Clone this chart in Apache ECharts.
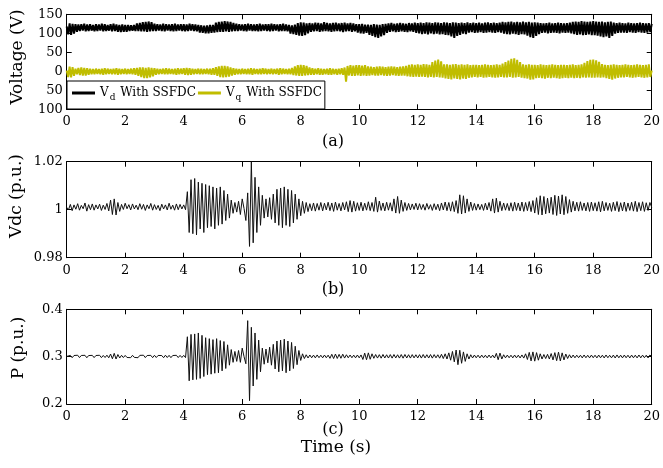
<!DOCTYPE html>
<html>
<head>
<meta charset="utf-8">
<script src="https://cdn.jsdelivr.net/npm/echarts/dist/echarts.min.js"></script>
<style>
  html, body { margin: 0; padding: 0; background: #fff; }
  #chart { width: 663px; height: 468px; }
</style>
</head>
<body>
<div id="chart"></div>
<script>
// Sample spacing of the recorded traces (seconds)
const dtVoltage = 0.05;     // Vd / Vq record
const dtDc = 0.0625;        // Vdc / P record

// d-axis voltage with SSFDC (V), one row per second
const vd = [
  118,97,126,96,125,99,124,104,123,106,124,107,125,105,123,106,124,107,122,105,
  124,106,123,107,125,105,124,106,122,107,124,105,125,106,123,104,122,103,123,104,
  122,104,122,106,121,107,122,106,126,106,127,105,129,105,130,104,131,105,129,106,
  125,106,124,107,123,106,125,105,124,107,123,106,124,105,125,106,123,107,124,106,
  124,105,123,106,125,107,124,106,123,105,122,102,121,101,120,100,121,100,122,101,
  122,102,128,103,130,104,131,104,132,105,131,104,130,105,127,106,125,106,124,107,
  123,106,124,105,125,107,124,106,123,106,124,105,125,106,123,107,124,106,124,105,
  125,106,124,107,123,105,124,106,125,106,123,105,122,99,121,98,123,96,127,94,
  129,93,128,95,126,100,127,104,126,105,128,106,127,104,126,105,129,106,127,105,
  126,104,127,105,128,106,126,105,127,103,128,105,126,106,127,104,126,105,124,102,
  124,100,125,99,123,101,123,96,122,93,124,90,123,88,122,92,124,95,125,101,
  126,104,127,105,125,103,126,104,127,105,126,104,125,103,127,105,126,104,128,101,
  127,100,128,98,127,99,129,97,128,100,127,98,129,99,128,97,127,98,129,96,
  128,95,127,92,129,88,128,93,127,96,128,99,127,98,129,102,127,103,128,101,
  127,102,128,103,126,101,128,102,129,103,127,102,128,101,127,103,128,102,130,99,
  129,98,130,97,131,99,129,98,130,96,129,98,131,97,129,94,130,90,128,88,
  129,93,128,98,127,101,126,102,127,100,128,101,126,102,127,101,128,100,127,102,
  126,101,127,102,128,100,130,98,131,96,130,97,132,95,131,96,130,97,131,95,
  132,95,131,94,130,92,131,90,129,92,130,88,131,93,128,99,127,101,128,102,
  127,102,126,101,128,103,127,102,126,101,127,103,128,102,127,101,126,102,127,103,
  125
];

// q-axis voltage with SSFDC (V)
const vq = [
  2,-15,12,-16,11,-12,7,-8,9,-10,10,-11,9,-11,8,-9,7,-8,6,-8,
  7,-7,6,-8,7,-9,8,-8,7,-7,6,-8,7,-8,8,-9,7,-8,6,-7,
  7,-8,6,-7,7,-8,8,-9,9,-12,10,-15,10,-18,9,-18,10,-16,9,-13,
  8,-9,7,-8,6,-7,7,-8,8,-8,7,-7,6,-8,7,-9,8,-8,7,-7,
  8,-9,9,-10,8,-9,7,-8,6,-7,7,-8,7,-8,6,-7,7,-8,7,-9,
  8,-9,11,-12,13,-15,14,-16,14,-15,13,-14,10,-11,8,-9,7,-8,6,-8,
  7,-7,6,-8,7,-8,8,-9,7,-7,6,-8,7,-8,8,-7,7,-8,6,-7,
  7,-8,6,-7,7,-9,8,-8,7,-7,6,-8,7,-8,9,-10,13,-11,16,-12,
  17,-12,16,-11,14,-10,10,-9,8,-9,7,-8,8,-9,7,-9,6,-8,7,-9,
  8,-9,7,-8,6,-9,7,-8,8,-9,10,-27,14,-11,16,-12,15,-12,16,-11,
  16,-12,15,-11,16,-12,13,-11,12,-10,11,-11,12,-11,13,-10,12,-11,11,-12,
  12,-11,13,-10,12,-11,11,-12,12,-11,13,-11,14,-13,17,-14,18,-15,17,-14,
  18,-15,17,-14,19,-15,18,-16,17,-15,24,-16,28,-15,31,-16,26,-17,18,-19,
  18,-20,17,-21,18,-19,19,-20,17,-21,18,-19,17,-20,18,-17,16,-16,17,-15,
  17,-16,16,-15,17,-17,18,-16,17,-15,16,-16,17,-17,18,-16,17,-15,20,-16,
  24,-16,28,-15,33,-17,34,-16,30,-15,24,-17,18,-18,17,-19,18,-22,17,-21,
  17,-18,16,-17,18,-18,17,-19,16,-17,17,-18,18,-17,17,-18,16,-19,17,-18,
  17,-17,16,-18,17,-17,18,-18,16,-17,17,-18,18,-16,22,-17,27,-16,30,-17,
  31,-17,29,-16,25,-17,19,-16,17,-18,16,-20,17,-22,18,-19,17,-17,16,-16,
  17,-16,18,-15,17,-16,16,-17,17,-16,18,-15,17,-16,16,-17,17,-16,18,-15,
  2
];

// DC-link voltage (p.u.)
const vdc = [
  1.0010,1.0000,1.0022,0.9996,1.0020,1.0002,1.0025,0.9998,1.0018,1.0004,1.0028,0.9994,1.0021,1.0000,1.0024,0.9998,
  1.0020,1.0003,1.0023,0.9997,1.0019,1.0001,1.0026,0.9995,1.0040,0.9980,1.0045,0.9978,1.0030,0.9993,1.0022,1.0001,
  1.0027,1.0004,1.0021,0.9999,1.0024,1.0003,1.0019,1.0000,1.0025,1.0002,1.0022,0.9997,1.0020,1.0004,1.0026,0.9998,
  1.0021,1.0001,1.0018,0.9996,1.0023,1.0003,1.0020,0.9999,1.0027,1.0002,1.0019,0.9998,1.0024,1.0000,1.0022,1.0003,
  1.0020,1.0000,1.0075,0.9905,1.0125,0.9900,1.0130,0.9895,1.0115,0.9920,1.0110,0.9905,1.0105,0.9925,1.0100,0.9930,
  1.0095,0.9920,1.0090,0.9935,1.0095,0.9940,1.0080,0.9955,1.0065,0.9965,1.0040,0.9985,1.0030,0.9990,1.0035,0.9980,
  1.0045,1.0005,0.9955,1.0070,0.9847,1.0200,0.9862,1.0135,0.9905,1.0095,0.9935,1.0060,0.9965,1.0045,0.9970,1.0050,
  0.9960,1.0065,0.9945,1.0085,0.9935,1.0090,0.9925,1.0095,0.9935,1.0085,0.9930,1.0080,0.9945,1.0065,0.9960,1.0045,
  0.9975,1.0035,0.9985,1.0030,0.9992,1.0025,0.9996,1.0028,0.9994,1.0026,0.9998,1.0030,0.9995,1.0027,0.9999,1.0031,
  0.9996,1.0028,0.9993,1.0032,0.9998,1.0026,0.9995,1.0030,0.9999,1.0033,0.9992,1.0038,0.9990,1.0035,0.9994,1.0029,
  0.9997,1.0031,0.9995,1.0027,0.9998,1.0033,0.9996,1.0030,0.9993,1.0052,0.9990,1.0036,0.9997,1.0028,0.9995,1.0031,
  0.9998,1.0029,0.9994,1.0045,0.9986,1.0055,0.9985,1.0040,0.9993,1.0030,0.9997,1.0026,0.9999,1.0024,1.0001,1.0027,
  0.9999,1.0025,1.0001,1.0022,0.9998,1.0026,1.0002,1.0021,0.9997,1.0025,1.0000,1.0023,0.9996,1.0028,0.9999,1.0032,
  0.9996,1.0030,0.9994,1.0033,0.9992,1.0038,0.9985,1.0062,0.9982,1.0058,0.9986,1.0045,0.9993,1.0032,0.9997,1.0026,
  0.9998,1.0024,1.0000,1.0022,0.9997,1.0027,0.9999,1.0030,0.9994,1.0045,0.9986,1.0048,0.9990,1.0035,0.9996,1.0028,
  0.9998,1.0026,0.9996,1.0029,0.9994,1.0031,0.9997,1.0028,0.9995,1.0032,0.9993,1.0030,0.9996,1.0034,0.9992,1.0038,
  0.9986,1.0050,0.9980,1.0058,0.9978,1.0055,0.9983,1.0048,0.9986,1.0052,0.9980,1.0060,0.9976,1.0057,0.9982,1.0062,
  0.9979,1.0055,0.9985,1.0042,0.9990,1.0035,0.9995,1.0031,0.9994,1.0033,0.9997,1.0028,0.9995,1.0030,0.9993,1.0032,
  0.9996,1.0029,0.9994,1.0033,0.9991,1.0035,0.9995,1.0030,0.9997,1.0027,0.9993,1.0031,0.9996,1.0034,0.9992,1.0029,
  0.9995,1.0032,0.9993,1.0028,0.9997,1.0031,0.9994,1.0035,0.9992,1.0030,0.9996,1.0033,0.9993,1.0029,0.9997,1.0030,
  1.0010
];

// Active power (p.u.)
const pw = [
  0.3005,0.2982,0.3026,0.2978,0.3024,0.2985,0.3030,0.2980,0.3025,0.2983,0.3028,0.2977,0.3023,0.2984,0.3027,0.2980,
  0.3024,0.2983,0.3029,0.2979,0.3025,0.2982,0.3031,0.2976,0.3055,0.2955,0.3070,0.2950,0.3045,0.2972,0.3028,0.2981,
  0.3026,0.2982,0.3023,0.2979,0.3028,0.2984,0.3025,0.2978,0.3027,0.2985,0.3030,0.2980,0.3024,0.2983,0.3027,0.2979,
  0.3028,0.2982,0.3025,0.2985,0.3023,0.2978,0.3030,0.2982,0.3027,0.2979,0.3024,0.2984,0.3028,0.2981,0.3026,0.2983,
  0.3027,0.2980,0.342,0.249,0.347,0.251,0.348,0.252,0.350,0.254,0.345,0.258,0.340,0.262,0.338,0.263,
  0.336,0.265,0.338,0.266,0.334,0.270,0.332,0.275,0.325,0.282,0.315,0.288,0.311,0.290,0.313,0.288,
  0.318,0.300,0.285,0.376,0.207,0.362,0.238,0.350,0.252,0.335,0.268,0.318,0.284,0.316,0.287,0.320,
  0.282,0.326,0.274,0.333,0.268,0.335,0.270,0.337,0.266,0.333,0.270,0.330,0.275,0.322,0.283,0.313,
  0.292,0.306,0.296,0.304,0.2972,0.3035,0.2976,0.3032,0.2974,0.3036,0.2978,0.3030,0.2975,0.3034,0.2977,0.3031,
  0.2965,0.3050,0.2960,0.3055,0.2962,0.3048,0.2966,0.3052,0.2970,0.3040,0.2976,0.3034,0.2977,0.3032,0.2975,0.3035,
  0.2975,0.3036,0.2940,0.3075,0.2935,0.3080,0.2945,0.3060,0.2965,0.3045,0.2970,0.3042,0.2968,0.3046,0.2972,0.3040,
  0.2971,0.3043,0.2969,0.3045,0.2973,0.3040,0.2970,0.3044,0.2968,0.3046,0.2972,0.3041,0.2970,0.3043,0.2974,0.3040,
  0.2972,0.3042,0.2970,0.3045,0.2973,0.3041,0.2971,0.3044,0.2969,0.3043,0.2975,0.3040,0.2968,0.3050,0.2960,0.3060,
  0.2950,0.3080,0.2925,0.3110,0.2890,0.3140,0.2830,0.3135,0.2860,0.3100,0.2900,0.3060,0.2950,0.3040,0.2972,0.3034,
  0.2976,0.3031,0.2974,0.3033,0.2977,0.3030,0.2975,0.3034,0.2976,0.3032,0.2972,0.3070,0.2935,0.3075,0.2950,0.3040,
  0.2975,0.3033,0.2977,0.3030,0.2974,0.3034,0.2976,0.3031,0.2973,0.3036,0.2970,0.3060,0.2940,0.3090,0.2910,0.3100,
  0.2905,0.3085,0.2925,0.3060,0.2950,0.3045,0.2960,0.3050,0.2950,0.3065,0.2930,0.3085,0.2915,0.3095,0.2910,0.3080,
  0.2930,0.3055,0.2960,0.3040,0.2972,0.3034,0.2976,0.3031,0.2978,0.3030,0.2974,0.3035,0.2977,0.3029,0.2975,0.3033,
  0.2977,0.3030,0.2974,0.3034,0.2976,0.3031,0.2973,0.3035,0.2977,0.3029,0.2975,0.3033,0.2972,0.3036,0.2976,0.3031,
  0.2974,0.3034,0.2977,0.3030,0.2973,0.3033,0.2976,0.3031,0.2974,0.3035,0.2975,0.3032,0.2978,0.3030,0.2973,0.3034,
  0.3005
];

// Axis ranges
const timeRange = [0, 20, 2];
const voltRange = [-100, 150, 50];
const vdcRange = [0.98, 1.02, 0.02];
const pRange = [0.2, 0.4, 0.1];

const seriesNames = ['Vd With SSFDC', 'Vq With SSFDC'];
const FONT = 'DejaVu Serif';
const YELLOW = '#c0bd00';

function toPairs(values, dt) {
  return values.map((v, i) => [+(i * dt).toFixed(4), v]);
}

const grids = [
  { left: 66.7, top: 14.3, width: 586, height: 95 },
  { left: 66.7, top: 161.7, width: 586, height: 96 },
  { left: 66.7, top: 309.3, width: 586, height: 94.7 }
];

const lineStyleAxis = { color: '#000', width: 1 };
const tickStyle = { inside: true, length: 5, lineStyle: { color: '#000', width: 1 } };
const labelStyle = { fontFamily: FONT, fontSize: 13, color: '#000' };

const xAxes = [];
const yAxes = [];
const yRanges = [
  [voltRange, v => String(Math.abs(v))],
  [vdcRange, v => String(+v.toFixed(2))],
  [pRange, v => String(+v.toFixed(1))]
];

grids.forEach((g, gi) => {
  ['bottom', 'top'].forEach(pos => {
    xAxes.push({
      type: 'value', gridIndex: gi, position: pos,
      min: timeRange[0], max: timeRange[1], interval: timeRange[2],
      axisLine: { show: true, onZero: false, lineStyle: lineStyleAxis },
      axisTick: tickStyle,
      axisLabel: pos === 'bottom' ? Object.assign({ margin: 6 }, labelStyle) : { show: false },
      splitLine: { show: false }
    });
  });
  const [rng, fmt] = yRanges[gi];
  ['left', 'right'].forEach(pos => {
    yAxes.push({
      type: 'value', gridIndex: gi, position: pos,
      min: rng[0], max: rng[1], interval: rng[2],
      axisLine: { show: true, onZero: false, lineStyle: lineStyleAxis },
      axisTick: tickStyle,
      axisLabel: pos === 'left' ? Object.assign({ margin: 4, formatter: fmt }, labelStyle) : { show: false },
      splitLine: { show: false }
    });
  });
});

function traceSeries(name, data, gi, color, width) {
  return {
    name, type: 'line', data,
    xAxisIndex: gi * 2, yAxisIndex: gi * 2,
    symbol: 'none', showSymbol: false, clip: true,
    lineStyle: { color, width },
    itemStyle: { color },
    emphasis: { disabled: true }
  };
}

function textItem(text, x, y, size, rotate) {
  return {
    type: 'text', x, y, rotation: rotate ? Math.PI / 2 : 0,
    style: {
      text, font: size + 'px "' + FONT + '"', fill: '#000',
      align: 'center', verticalAlign: 'middle',
      textAlign: 'center', textVerticalAlign: 'middle'
    }
  };
}

const chart = echarts.init(document.getElementById('chart'), null, { renderer: 'canvas' });
chart.setOption({
  animation: false,
  backgroundColor: '#fff',
  grid: grids,
  xAxis: xAxes,
  yAxis: yAxes,
  legend: {
    data: seriesNames,
    left: 67, top: 81,
    icon: 'rect', itemWidth: 23, itemHeight: 3, itemGap: 2,
    padding: [6, 3, 7, 5],
    borderColor: '#000', borderWidth: 1, backgroundColor: '#fff',
    formatter: name => {
      const sub = name.charAt(1);
      return '{m|V}{s|' + sub + '}{m|' + name.slice(2) + '}';
    },
    textStyle: {
      fontFamily: FONT, fontSize: 12, color: '#000',
      rich: {
        m: { fontFamily: FONT, fontSize: 12, color: '#000' },
        s: { fontFamily: FONT, fontSize: 9, color: '#000', padding: [9, 1, 0, 1] }
      }
    }
  },
  series: [
    traceSeries(seriesNames[0], toPairs(vd, dtVoltage), 0, '#000', 2),
    traceSeries(seriesNames[1], toPairs(vq, dtVoltage), 0, YELLOW, 2),
    traceSeries('Vdc', toPairs(vdc, dtDc), 1, '#111', 1),
    traceSeries('P', toPairs(pw, dtDc), 2, '#111', 1)
  ],
  graphic: [
    textItem('Voltage (V)', 17.5, 57, 17, true),
    textItem('Vdc (p.u.)', 17, 196, 17, true),
    textItem('P (p.u.)', 19, 348, 17, true),
    textItem('(a)', 333, 142, 16, false),
    textItem('(b)', 333, 290, 16, false),
    textItem('(c)', 333, 430, 16, false),
    textItem('Time (s)', 336, 448, 17, false)
  ]
});
</script>
</body>
</html>
